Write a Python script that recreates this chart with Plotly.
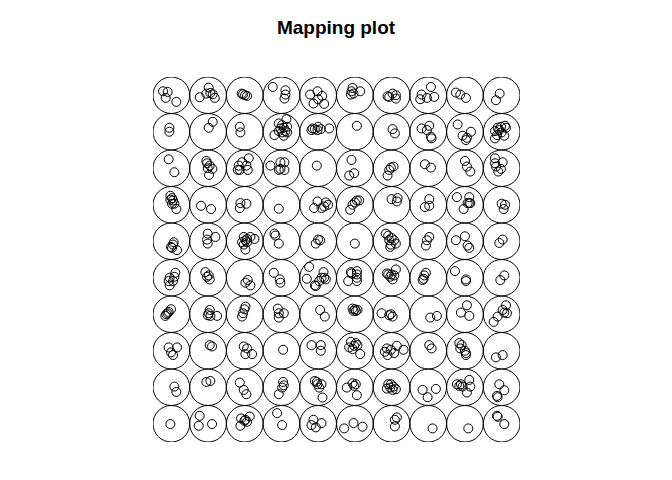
import plotly.graph_objects as go

# Grid dimensions of the SOM (rectangular 10 x 10)
n_rows = 10
n_cols = 10

# Mapped observations: unit row (0 = top), unit col, and jitter within unit (in 1/110 of a unit; +y = down)
pt_row = []
pt_col = []
jit_x = []
jit_y = []

def add(r, c, offs):
    for dx, dy in offs:
        pt_row.append(r); pt_col.append(c); jit_x.append(dx); jit_y.append(dy)

# row 0
add(0, 0, [(-25, -12), (-11, -10), (-17, 8), (15, 20)])
add(0, 1, [(2, -23), (-5, -5), (7, -7), (14, -3), (-25, 6), (20, 8)])
add(0, 2, [(-5, -3), (1, 0), (7, 2), (-9, -5)])
add(0, 3, [(-26, -25), (12, -15), (12, -2), (9, 10)])
add(0, 4, [(-24, -2), (-2, -12), (12, 2), (0, 12), (-14, 25), (18, 26)])
add(0, 5, [(-7, -22), (16, -12), (-10, -12), (-12, -2), (-4, -5)])
add(0, 6, [(-12, 3), (3, -5), (13, 0), (13, 10), (-7, 5)])
add(0, 7, [(8, -25), (-20, -2), (-24, 12), (-4, 8), (18, 5)])
add(0, 8, [(-27, -8), (-14, -2), (3, 8)])
add(0, 9, [(-6, -5), (-17, 15)])
# row 1
add(1, 0, [(-6, -12), (-6, 0)])
add(1, 1, [(14, -30), (2, -12)])
add(1, 2, [(-15, -15), (-13, 2)])
add(1, 3, [(15, -38), (-8, -25), (2, -20), (7, -12), (17, -15), (-3, -10), (12, -2), (2, 2), (17, 2), (-21, 10), (7, 12), (-8, -2)])
add(1, 4, [(-17, -10), (-10, -8), (0, -15), (8, -8), (-20, -5), (33, -10), (-2, -5)])
add(1, 5, [(6, -18)])
add(1, 6, [(3, -8), (10, 5)])
add(1, 7, [(-20, -10), (3, -18), (-4, -5), (8, 15), (10, 20)])
add(1, 8, [(-22, -22), (18, 0), (-7, 12), (6, 18), (3, 25)])
add(1, 9, [(10, -18), (-12, -12), (-20, -2), (-7, -5), (-2, -15), (13, -12), (-14, 10), (8, 12), (-20, 20), (0, 2)])
# row 2
add(2, 0, [(-8, -27), (9, 12)])
add(2, 1, [(-5, -22), (-3, -15), (5, -8), (13, 2), (-1, 0), (3, 20)])
add(2, 2, [(12, -30), (-8, -18), (-18, -8), (5, -8), (-15, 5), (9, 5), (-21, 5)])
add(2, 3, [(-33, -8), (-3, -18), (9, -18), (-3, 2), (9, 5), (-8, 5)])
add(2, 4, [(-4, -8)])
add(2, 5, [(-10, -25), (-2, 15), (-17, 22)])
add(2, 6, [(-2, -2), (6, -5), (-7, 5), (-12, 22)])
add(2, 7, [(-10, -12), (8, -2)])
add(2, 8, [(0, -22), (6, -5), (16, 10)])
add(2, 9, [(-20, -30), (3, -18), (-17, -5), (-2, 2), (-10, 10), (-20, -15)])
# row 3
add(3, 0, [(-3, -27), (2, -20), (5, -13), (2, -3), (9, -3), (15, 13), (-3, -15)])
add(3, 1, [(-21, 3), (9, 13)])
add(3, 2, [(-13, -5), (5, -3), (-15, 10)])
add(3, 3, [(-8, 12)])
add(3, 4, [(-2, -10), (-12, 10), (10, 10), (18, 5), (30, 0), (23, -7)])
add(3, 5, [(13, -13), (0, -7), (-7, 0), (-14, 15), (6, -13)])
add(3, 6, [(0, -17), (18, -20), (16, -10)])
add(3, 7, [(3, -17), (-10, 7), (3, 3)])
add(3, 8, [(-24, -23), (13, -23), (13, -5), (8, -5), (-4, 13), (16, -5)])
add(3, 9, [(0, -3), (10, 0), (6, 13)])
# row 4
add(4, 0, [(7, 3), (5, 10), (-1, 17), (17, 27), (2, 20)])
add(4, 1, [(-1, -23), (22, -13), (-3, -5), (-1, 7)])
add(4, 2, [(-3, -13), (7, -7), (17, -13), (29, -7), (2, -3), (-8, 3), (7, 3), (-3, 10), (2, 25)])
add(4, 3, [(-21, -23), (-18, -17), (-8, 7)])
add(4, 4, [(0, -5), (-7, 7), (6, -3)])
add(4, 5, [(0, 7)])
add(4, 6, [(-17, -23), (-10, -17), (0, -10), (-7, -3), (8, -3), (-2, 10), (13, 7), (-4, 17)])
add(4, 7, [(3, -13), (-4, -3), (-7, 13)])
add(4, 8, [(-27, -3), (0, -15), (8, 13), (13, 20)])
add(4, 9, [(3, -5), (-7, 5)])
# row 5
add(5, 0, [(12, -15), (9, -3), (-5, 0), (-8, 10), (-5, 23), (5, 10)])
add(5, 1, [(-8, -17), (2, -7), (5, 5), (-3, -3)])
add(5, 2, [(9, 7), (2, 15), (17, 23)])
add(5, 3, [(-23, -15), (-5, 5), (-3, 15)])
add(5, 4, [(-27, -33), (16, -17), (-34, 3), (10, 0), (18, 0), (3, 10), (-7, 25), (-10, 23), (23, 5)])
add(5, 5, [(-12, -17), (6, -20), (6, -10), (6, 0), (6, 10), (-20, 10), (-10, -13)])
add(5, 6, [(13, -25), (-14, -13), (0, -10), (8, -7), (-4, -3), (3, 5), (-10, -10)])
add(5, 7, [(-7, -15), (-12, -7), (-14, 3), (-17, 7)])
add(5, 8, [(-30, -20), (3, 5), (3, 10)])
add(5, 9, [(8, -7), (-4, 7)])
# row 6
add(6, 0, [(-1, -15), (-8, -7), (-15, 0), (-18, 5), (-11, -3)])
add(6, 1, [(5, -13), (2, -3), (7, 5), (27, 5), (-1, 3)])
add(6, 2, [(2, -23), (-1, -15), (-5, -3), (-8, 7)])
add(6, 3, [(-11, -17), (-8, -3), (7, -3), (-8, 10)])
add(6, 4, [(6, -13), (20, 7)])
add(6, 5, [(-7, -17), (0, -15), (8, -13), (-4, -10), (3, -10)])
add(6, 6, [(-30, -3), (-7, 3), (3, 7), (-2, 0)])
add(6, 7, [(6, 10), (26, 5)])
add(6, 8, [(6, -27), (-12, -5), (13, 5)])
add(6, 9, [(13, -27), (3, -13), (16, -3), (-12, 7), (-24, 23), (8, -5)])
# row 7
add(7, 0, [(-8, -10), (17, -10), (-1, 5), (5, 13)])
add(7, 1, [(5, -17), (12, -13)])
add(7, 2, [(-3, -13), (7, -7), (2, 10), (22, 10)])
add(7, 3, [(5, -3)])
add(7, 4, [(-20, -17), (8, -17), (8, 0)])
add(7, 5, [(-12, -27), (-17, -10), (-2, -15), (8, -17), (-7, -5), (16, 10), (3, -23)])
add(7, 6, [(16, -15), (36, -3), (-14, -7), (-2, -3), (-12, 13), (8, 7), (-20, 3)])
add(7, 7, [(3, -17), (10, -7)])
add(7, 8, [(-17, -23), (-10, -17), (-14, -7), (0, 0), (3, 7), (3, 13)])
add(7, 9, [(-17, 20), (3, 13)])
# row 8
add(8, 0, [(9, -2), (15, 14)])
add(8, 1, [(-5, -16), (7, -19)])
add(8, 2, [(-15, -14), (-3, 8), (5, 21)])
add(8, 3, [(5, -16), (7, -6), (2, 1), (-8, 21)])
add(8, 4, [(-10, -19), (-2, -9), (3, 1), (10, -9), (13, 31), (-4, -16)])
add(8, 5, [(-7, -12), (3, -9), (-24, 1), (6, 24), (-2, -4)])
add(8, 6, [(-10, -9), (-2, -9), (6, -2), (-14, 4), (3, 8), (13, 6), (-4, 1)])
add(8, 7, [(-17, 8), (23, 5), (-2, 30)])
add(8, 8, [(-24, -9), (-17, -4), (-7, -2), (13, -22), (16, -2), (6, 16), (-12, -9)])
add(8, 9, [(-7, -9), (8, 9), (-14, 26), (-12, 30)])
# row 9
add(9, 0, [(-3, 1)])
add(9, 1, [(-25, -24), (-28, 6), (12, 1)])
add(9, 2, [(-11, -16), (2, -12), (7, -6), (15, -22), (-13, 6), (-1, -9)])
add(9, 3, [(-13, -32), (2, 4)])
add(9, 4, [(-14, -12), (10, -2), (-20, 4), (-7, 11)])
add(9, 5, [(-32, 14), (-4, -2), (23, 9)])
add(9, 6, [(16, -19), (10, -12), (10, 8)])
add(9, 7, [(13, 14)])
add(9, 8, [(10, 14)])
add(9, 9, [(-14, -24), (-12, -21), (8, 1)])

JIT_SCALE = 110.0

xs = [c + dx / JIT_SCALE for c, dx in zip(pt_col, jit_x)]
ys = [r + dy / JIT_SCALE for r, dy in zip(pt_row, jit_y)]

fig = go.Figure()

shapes = []
for r in range(n_rows):
    for c in range(n_cols):
        shapes.append(dict(type="circle", xref="x", yref="y",
                           x0=c - 0.5, x1=c + 0.5, y0=r - 0.5, y1=r + 0.5,
                           line=dict(color="black", width=1), layer="above"))

fig.add_trace(go.Scatter(
    x=xs, y=ys, mode="markers",
    marker=dict(symbol="circle-open", size=9, color="black",
                line=dict(color="black", width=1)),
    hoverinfo="skip", showlegend=False))

fig.update_layout(
    width=672, height=480,
    margin=dict(l=153, r=152, t=77, b=38),
    paper_bgcolor="white", plot_bgcolor="white",
    shapes=shapes,
    title=dict(text="<b>Mapping plot</b>", x=0.5, xanchor="center",
               y=1 - 27 / 480, yanchor="middle", yref="container",
               font=dict(family="Liberation Sans, Arial, sans-serif", size=19, color="black")),
    xaxis=dict(range=[-0.5, 9.5], visible=False, showgrid=False, zeroline=False),
    yaxis=dict(range=[9.5, -0.5], visible=False, showgrid=False, zeroline=False),
)

fig.write_html("out.html")
